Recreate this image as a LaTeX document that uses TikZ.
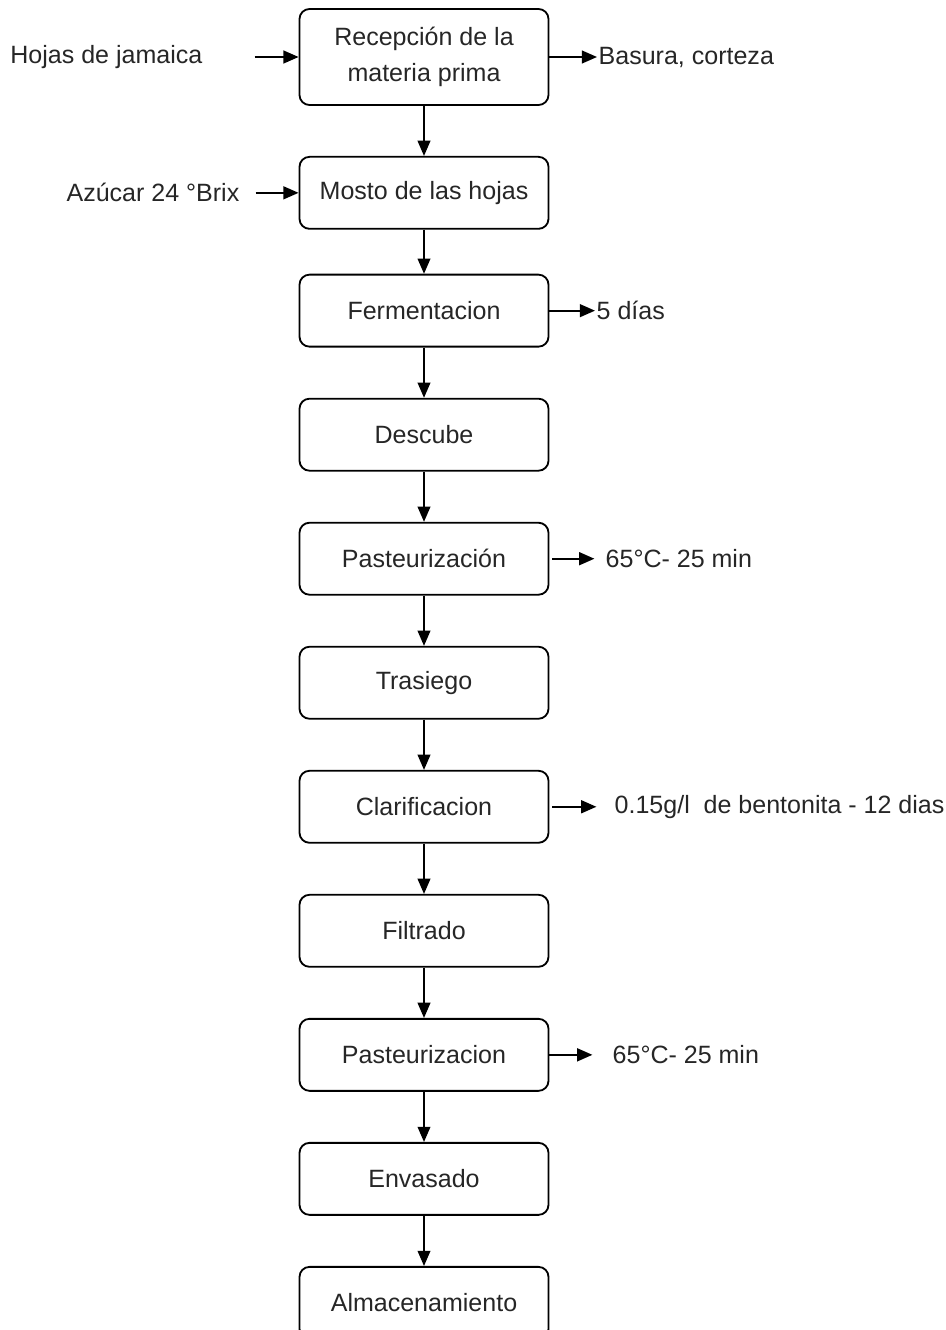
\documentclass[tikz,border=0pt]{standalone}
\usepackage{fontspec}
\setmainfont{Liberation Sans}
\usetikzlibrary{arrows.meta, positioning}

\begin{document}
\begin{tikzpicture}[node distance=1.255cm, >={Triangle[length=0.38cm, width=0.32cm]},
  font=\fontsize{17.8}{26}\selectfont,
  stage/.style={draw=black, line width=1.3pt, rounded corners=0.25cm,
        minimum width=6.225cm, minimum height=1.8cm, align=center, text=black!85},
  side/.style={inner sep=0pt, text=black!85},
  flow/.style={->, line width=1pt},
  feed/.style={->, line width=1.4pt}]
  \useasboundingbox (0,0) rectangle (23.65,-33.25);

  % main line of the process
  \node[stage, minimum height=2.4cm] (recep) at (10.6,-1.425)
        {Recepción de la\\materia prima};
  \node[stage, below=1.25cm of recep] (mosto) {Mosto de las hojas};
  \node[stage, below=1.1cm of mosto] (ferm) {Fermentacion};
  \node[stage, below=of ferm] (descube) {Descube};
  \node[stage, below=of descube] (pasteurA) {Pasteurización};
  \node[stage, below=of pasteurA] (trasiego) {Trasiego};
  \node[stage, below=of trasiego] (clarif) {Clarificacion};
  \node[stage, below=of clarif] (filtrado) {Filtrado};
  \node[stage, below=of filtrado] (pasteurB) {Pasteurizacion};
  \node[stage, below=of pasteurB] (envasado) {Envasado};
  \node[stage, below=of envasado] (almacen) {Almacenamiento};

  \draw[flow] (recep) -- (mosto);
  \draw[flow] (mosto) -- (ferm);
  \draw[flow] (ferm) -- (descube);
  \draw[flow] (descube) -- (pasteurA);
  \draw[flow] (pasteurA) -- (trasiego);
  \draw[flow] (trasiego) -- (clarif);
  \draw[flow] (clarif) -- (filtrado);
  \draw[flow] (filtrado) -- (pasteurB);
  \draw[flow] (pasteurB) -- (envasado);
  \draw[flow] (envasado) -- (almacen);

  % inputs and outputs
  \node[side, left=2.4cm of recep] (hojas) {Hojas de jamaica};
  \node[side, right=1.225cm of recep] (basura) {Basura, corteza};
  \node[side, left=1.475cm of mosto] (azucar) {Azúcar 24 °Brix};
  \node[side, right=1.175cm of ferm] (dias) {5 días};
  \node[side, right=1.4cm of pasteurA] (tempA) {65°C- 25 min};
  \node[side, right=1.625cm of clarif] (bento) {0.15g/l\ \ de bentonita - 12 dias};
  \node[side, right=1.575cm of pasteurB] (tempB) {65°C- 25 min};

  \draw[feed, shorten <=1.3cm] (hojas) -- (recep);
  \draw[feed, shorten >=1pt] (recep) -- (basura);
  \draw[feed, shorten <=0.4cm] (azucar) -- (mosto);
  \draw[feed, shorten >=1pt] (ferm) -- (dias);
  \draw[feed, shorten <=2pt, shorten >=0.275cm] (pasteurA) -- (tempA);
  \draw[feed, shorten <=2pt, shorten >=0.45cm] (clarif) -- (bento);
  \draw[feed, shorten >=0.5cm] (pasteurB) -- (tempB);
\end{tikzpicture}
\end{document}
